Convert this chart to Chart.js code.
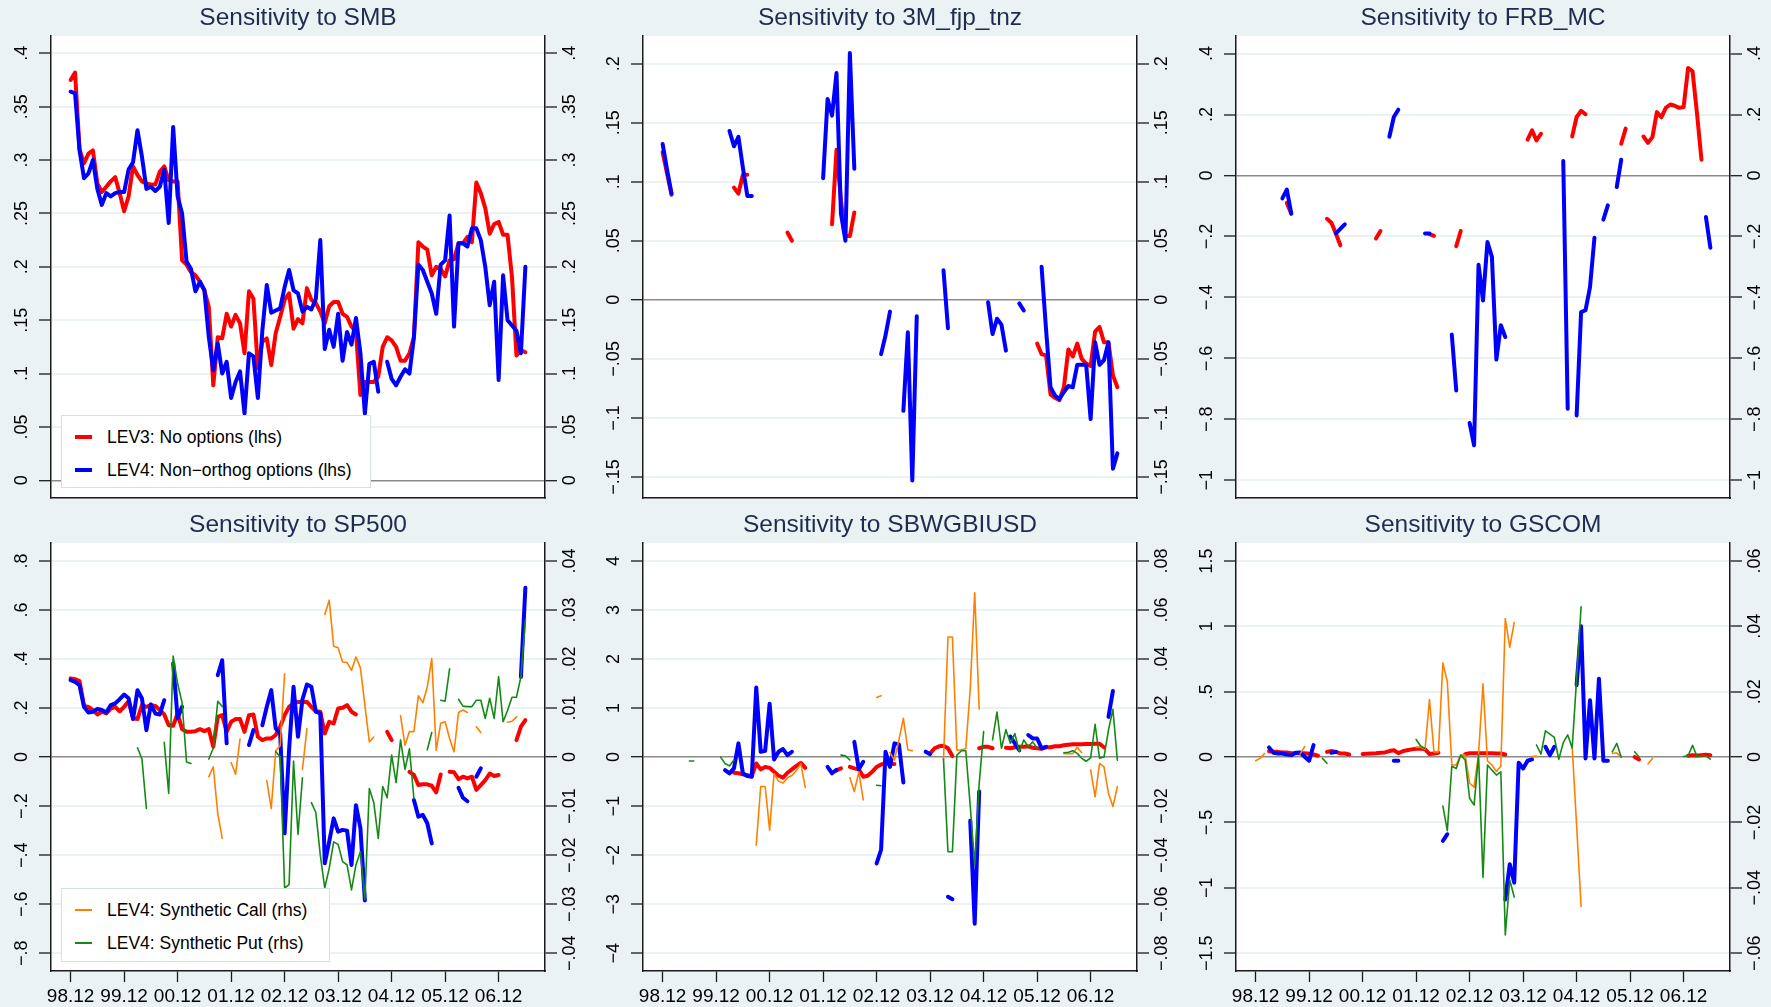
<!DOCTYPE html>
<html><head><meta charset="utf-8">
<script src="https://cdn.jsdelivr.net/npm/chart.js@4.4.0/dist/chart.umd.min.js"></script>
<style>
html,body{margin:0;padding:0;background:#eaf2f3;}
body{width:1771px;height:1007px;position:relative;overflow:hidden;font-family:"Liberation Sans",Arial,sans-serif;}
.pane{position:absolute;}
.pane canvas{display:block;}
.legend{position:absolute;background:#fff;border:1px solid #d6e0e3;box-sizing:border-box;color:#000;font-size:17.5px;z-index:5;}
.legend .row{position:absolute;left:0;right:0;height:20px;}
.legend .sw{position:absolute;left:13px;width:17px;}
.legend .tx{position:absolute;left:45px;top:0;line-height:20px;white-space:nowrap;}
</style></head><body>
<script>
const _ = null;

// ---- categories: month index, 0 = 1998.12 ----
const months = [0,1,2,3,4,5,6,7,8,9,10,11,12,13,14,15,16,17,18,19,20,21,22,23,24,25,26,27,28,29,30,31,32,33,34,35,36,37,38,39,40,41,42,43,44,45,46,47,48,49,50,51,52,53,54,55,56,57,58,59,60,61,62,63,64,65,66,67,68,69,70,71,72,73,74,75,76,77,78,79,80,81,82,83,84,85,86,87,88,89,90,91,92,93,94,95,96,97,98,99,100,101,102];
const xTickValues = [0,12,24,36,48,60,72,84,96];
const xTickLabels = ["98.12","99.12","00.12","01.12","02.12","03.12","04.12","05.12","06.12"];

// ---- Sensitivity to SMB ----
const smbNoOptions = [.375,.382,.31,.297,.306,.309,.278,.27,.275,.28,.284,.269,
 .252,.266,.294,.286,.28,.278,.277,.277,.289,.294,.281,.28,
 .28,.206,.202,.195,.192,.186,.178,.162,.089,.134,.133,.156,
 .144,.155,.147,.119,.177,.17,.105,.13,.133,.108,.138,.153,
 .169,.175,.142,.151,.147,.18,.169,.166,.158,.147,.163,.167,
 .167,.156,.153,.144,.139,.08,.092,.092,.092,.097,.125,.134,
 .131,.125,.112,.112,.119,.134,.223,.219,.216,.192,.2,.198,
 .191,.206,.207,.222,.222,.228,.223,.279,.269,.255,.231,.24,
 .242,.23,.23,.19,.117,.122,.12];
const smbNonOrthog = [.364,.3625,.309,.283,.2875,.3,.273,.258,.269,.266,.269,.27,
 .27,.291,.298,.328,.303,.273,.275,.271,.275,.291,.241,.331,
 .266,.25,.205,.198,.177,.186,.178,.134,.103,.128,.1,.111,
 .077,.092,.102,.0625,.119,.116,.077,.14,.183,.157,.159,.161,
 .181,.197,.178,.175,.158,.1625,.16,.17,.225,.123,.141,.125,
 .156,.112,.139,.127,.152,.119,.0625,.109,.111,.083,_,.111,
 .095,.089,.097,.104,.1,.134,.202,.197,.186,.175,.156,.202,
 .206,.248,.144,.222,.222,.219,.236,.236,.225,.2,.164,.186,
 .094,.192,.15,.145,.14,.119,.2];
const smbTicks = [0,.05,.1,.15,.2,.25,.3,.35,.4];
const smbTickLabels = ["0",".05",".1",".15",".2",".25",".3",".35",".4"];

// ---- Sensitivity to 3M_fjp_tnz ----
const fjpNoOptions = [.125,.107,.089,_,_,_,_,_,_,_,_,_,
 _,_,_,_,.095,.09,.106,.106,_,_,_,_,
 _,_,_,_,.057,.05,_,_,_,_,_,_,
 _,_,.064,.127,.084,.054,.054,.074,_,_,_,_,
 _,_,_,_,_,_,_,_,_,_,_,_,
 _,_,_,_,_,_,_,_,_,_,_,_,
 _,_,_,_,_,_,_,_,_,_,_,_,
 -.037,-.046,-.047,-.08,-.083,-.085,-.074,-.042,-.048,-.037,-.05,-.054,
 -.056,-.027,-.023,-.036,-.036,-.064,-.074];
const fjpNonOrthog = [.132,.11,.09,_,_,_,_,_,_,_,_,_,
 _,_,_,.143,.13,.138,.112,.088,.088,_,_,_,
 _,_,_,_,_,_,_,_,_,_,_,_,
 .103,.17,.156,.192,.073,.05,.209,.111,_,_,_,_,
 _,-.046,-.03,-.01,_,_,-.094,-.0275,-.153,-.014,_,_,
 _,_,_,.025,-.024,_,_,_,_,_,_,_,
 _,-.002,-.029,-.016,-.021,-.043,_,_,-.003,-.009,_,_,
 _,.028,-.025,-.074,-.081,-.084,-.078,-.073,-.074,-.055,-.055,-.055,
 -.101,-.036,-.055,-.051,-.036,-.143,-.13];
const fjpTicks = [-.15,-.1,-.05,0,.05,.1,.15,.2];
const fjpTickLabels = ["\u2212.15","\u2212.1","\u2212.05","0",".05",".1",".15",".2"];

// ---- Sensitivity to FRB_MC ----
const frbNoOptions = [_,_,_,_,_,_,_,-.09,-.125,_,_,_,
 _,_,_,_,-.142,-.155,-.19,-.229,_,_,_,_,
 _,_,_,-.207,-.182,_,_,_,_,_,_,_,
 _,_,_,-.192,-.198,_,_,_,_,-.232,-.182,_,
 _,_,_,_,_,_,_,_,_,_,_,_,
 _,.118,.148,.115,.137,_,_,_,_,_,_,.128,
 .192,.212,.201,_,_,_,_,_,_,_,.104,.154,
 _,_,_,.128,.107,.126,.208,.191,.222,.233,.229,.222,
 .225,.353,.342,.203,.052,_,_];
const frbNonOrthog = [_,_,_,_,_,_,-.075,-.046,-.125,_,_,_,
 _,_,_,_,_,_,-.19,-.175,-.16,_,_,_,
 _,_,_,_,_,_,.127,.192,.216,_,_,_,
 _,_,-.19,-.19,_,_,_,_,-.522,-.705,_,_,
 -.812,-.885,-.293,-.41,-.218,-.267,-.604,-.491,-.53,_,_,_,
 _,_,_,_,_,_,_,_,_,.048,-.765,_,
 -.787,-.448,-.442,-.366,-.204,_,-.145,-.098,_,-.038,.052,_,
 _,_,_,_,_,_,_,_,_,_,_,_,
 _,_,_,_,_,-.136,-.237];
const frbTicks = [-1,-.8,-.6,-.4,-.2,0,.2,.4];
const frbTickLabels = ["\u22121","\u2212.8","\u2212.6","\u2212.4","\u2212.2","0",".2",".4"];

// ---- Sensitivity to SP500 ----
const spNoOptions = [.321,.318,.31,.209,.205,.192,.174,.185,.178,.198,.205,.187,
 .205,.228,.158,.155,.212,.205,.212,.209,.192,.174,.13,.128,
 .178,.114,.103,.103,.106,.114,.106,.114,.042,.164,.171,.103,
 .144,.155,.155,.103,.171,.174,.083,.069,.076,.076,.09,.124,
 .171,.205,.219,.225,.225,.225,.205,.187,.185,.096,.144,.137,
 .198,.201,.212,.185,.174,_,_,_,_,_,_,.103,
 .069,_,_,_,-.06,-.073,-.114,-.111,-.111,-.117,-.144,-.071,
 _,-.06,-.062,-.09,-.08,-.087,-.08,-.134,-.114,-.094,-.067,-.077,
 -.073,_,_,_,.069,.124,.151];
const spNonOrthog = [.314,.307,.293,.205,.182,.185,.196,.192,.182,.212,.219,.236,
 .255,.24,.155,.273,.239,.11,.215,.178,.174,.232,_,.382,
 .158,.205,_,_,_,_,_,_,_,.334,.395,.056,
 _,_,_,_,.049,.11,_,.13,.205,.273,.117,.096,
 -.311,.03,.287,.083,.235,.296,.287,.185,.178,-.433,-.345,-.25,
 -.304,-.297,-.3,-.44,-.196,-.29,-.585,_,_,_,_,_,
 _,_,_,_,_,-.175,-.243,-.236,-.27,-.352,_,_,
 _,_,_,-.125,-.166,-.18,_,-.08,-.046,_,_,_,
 _,_,_,_,_,.327,.691];
const spCall = [_,_,_,_,_,_,_,_,_,_,_,_,
 _,_,_,_,_,_,_,_,_,_,_,_,
 _,_,_,_,_,_,_,-.004,-.002,-.0115,-.0166,_,
 -.0011,-.0035,.0037,_,_,_,_,_,-.0048,-.0105,.0013,.0023,
 .017,_,_,_,-.0025,.0058,_,_,_,.0291,.032,.0226,
 .0223,.0194,.0193,.0177,.0204,.0182,.0106,.0031,.0041,_,_,_,
 _,_,.0084,.0024,.0052,.0052,.0125,.0111,.0143,.0201,.0014,.0069,
 .0072,.0038,.0011,.0091,.0096,.0091,_,.0062,.005,_,_,_,
 _,_,.0071,.0073,.0082,_,_];
const spPut = [_,_,_,_,_,_,_,_,_,_,_,_,
 _,_,_,.0019,-.0004,-.0105,_,_,_,.003,-.0074,.0206,
 .015,.0111,-.001,-.0013,_,_,_,-.0004,.0018,.0114,.0103,_,
 _,_,_,_,_,_,_,_,_,_,.0011,.0001,
 -.0267,-.026,-.0008,-.0158,-.0042,_,-.0093,-.0113,-.02,-.0267,-.0227,-.0173,
 -.0178,-.0213,-.022,-.0271,-.022,-.0193,-.029,-.0064,-.0093,-.0166,-.006,-.0083,
 .0004,-.0052,.0035,-.0025,.0017,-.0085,_,_,.0015,.005,_,.0116,
 .0114,.018,_,.0118,.0104,.0103,.0103,.0116,.0116,.0079,.012,.0079,
 .0164,.0072,.0095,.0122,.0122,.0164,.028];
const spTicks = [-.8,-.6,-.4,-.2,0,.2,.4,.6,.8];
const spTickLabels = ["\u2212.8","\u2212.6","\u2212.4","\u2212.2","0",".2",".4",".6",".8"];
const spRhsTicks = [-.04,-.03,-.02,-.01,0,.01,.02,.03,.04];
const spRhsTickLabels = ["\u2212.04","\u2212.03","\u2212.02","\u2212.01","0",".01",".02",".03",".04"];

// ---- Sensitivity to SBWGBIUSD ----
const sbNoOptions = [_,_,_,_,_,_,_,_,_,_,_,_,
 _,_,_,_,-.32,-.33,-.35,-.37,-.39,-.13,-.25,-.2,
 -.22,-.3,-.38,-.42,-.32,-.25,-.18,-.12,-.22,_,_,_,
 _,_,_,-.27,-.23,_,-.2,-.23,-.25,-.4,-.38,-.3,
 -.2,-.15,-.13,-.14,-.14,_,_,_,_,_,_,_,
 .075,.18,.22,.23,.18,.02,_,_,_,_,_,.18,
 .21,.21,.18,_,_,.19,.18,.2,.21,.21,.22,.19,
 .18,.17,.2,.2,.22,.22,.24,.25,.26,.26,.26,.265,
 .265,.27,.27,.2,_,_,_];
const sbNonOrthog = [_,_,_,_,_,_,_,_,_,_,_,_,
 _,_,-.265,-.333,-.23,.28,-.333,-.387,-.4,1.42,.109,.129,
 1.09,-.048,.11,.163,.04,.109,_,_,_,_,_,_,
 _,-.2,-.33,-.26,_,_,_,.31,-.25,-.095,_,_,
 -2.17,-1.89,.11,-.2,.28,.26,-.52,_,_,_,_,.11,
 .06,_,_,_,-2.85,-2.9,_,_,_,-1.3,-3.4,-.7,
 _,_,_,_,_,_,.42,.28,.14,_,.45,.38,
 .38,.18,.21,_,_,_,_,_,_,_,_,_,
 _,_,_,_,.82,1.35,_];
const sbCall = [_,_,_,_,_,_,_,_,_,_,_,_,
 _,_,_,_,_,_,_,_,_,-.0359,-.012,-.012,
 -.0298,-.0068,-.0098,-.0106,-.0085,-.0075,-.0055,-.0027,-.0124,_,_,_,
 _,_,_,_,_,_,-.0084,-.0141,-.006,-.0175,_,_,
 .0243,.025,_,.0018,-.0012,.007,.0158,.003,.0026,_,_,_,
 _,_,_,-.001,.049,.049,.0028,.003,.0034,.028,.067,.0196,
 _,_,_,_,_,_,_,_,_,_,_,_,
 _,_,_,_,_,_,.0014,.0014,.0014,.004,.0018,_,
 -.0052,-.0162,-.0026,-.004,-.0148,-.0202,-.012];
const sbPut = [_,_,_,_,_,_,-.0016,-.0016,_,_,_,_,
 _,0,-.0026,-.0036,-.0012,_,_,_,_,_,_,_,
 _,_,_,_,_,_,_,_,_,_,_,_,
 _,_,_,_,.0008,.0005,-.0012,_,_,_,_,_,
 -.0115,-.0117,_,_,_,_,_,_,_,_,_,_,
 _,_,_,-.0008,-.0386,-.0386,.0008,.0026,.0026,-.02,-.044,-.011,
 .0104,_,.007,.0184,.0036,.0112,.0056,.0096,.0022,.007,.0042,.0062,
 .0036,_,_,_,_,_,.0018,.002,.0026,.0015,-.0005,-.0017,
 -.0003,.0134,-.0005,0,.011,.0195,-.0013];
const sbTicks = [-4,-3,-2,-1,0,1,2,3,4];
const sbTickLabels = ["\u22124","\u22123","\u22122","\u22121","0","1","2","3","4"];
const sbRhsTicks = [-.08,-.06,-.04,-.02,0,.02,.04,.06,.08];
const sbRhsTickLabels = ["\u2212.08","\u2212.06","\u2212.04","\u2212.02","0",".02",".04",".06",".08"];

// ---- Sensitivity to GSCOM ----
const gsNoOptions = [_,_,_,.045,.04,.04,.035,.035,.03,.03,.03,.03,
 .025,.02,.01,_,.04,.046,.04,.028,.028,.02,_,_,
 .023,.026,.028,.03,.033,.036,.046,.053,.03,.045,.053,.059,
 .064,.066,.06,.023,.028,.033,_,_,_,_,_,.023,
 .03,.03,.03,.03,.03,.03,.028,.028,.02,_,_,_,
 _,_,_,_,_,_,_,_,_,_,_,_,
 _,_,_,_,_,_,_,_,_,_,_,_,
 _,0,-.018,_,_,_,_,_,_,_,_,_,
 _,.01,.015,.012,.015,.018,.015];
const gsNonOrthog = [_,_,_,.074,.033,.028,.028,.02,.015,.033,.036,.003,
 -.028,.092,_,_,_,.033,.04,_,_,_,_,_,
 _,_,_,_,_,_,_,-.028,-.028,_,_,_,
 _,_,_,_,_,_,-.64,-.59,_,_,_,_,
 _,_,_,_,_,_,_,_,-1.09,-.82,-.96,-.043,
 -.087,-.028,-.018,_,_,.079,.015,.079,_,_,_,_,
 .55,1,-.01,.435,-.01,.6,-.028,-.028,_,_,_,_,
 _,_,_,_,_,_,_,_,_,_,_,_,
 _,_,_,_,_,_,_];
const gsCall = [-.0011,-.0004,.0011,_,_,_,_,_,_,_,.001,.0032,
 _,_,_,_,_,_,_,_,_,_,_,_,
 _,_,_,_,_,_,_,_,_,_,_,_,
 .003,.003,.0024,.0176,.0016,.0016,.0288,.023,-.0024,-.0024,.0006,.0006,
 -.008,-.0092,.0009,.0224,-.0012,-.0024,-.0044,-.0028,.0424,.0336,.0412,_,
 _,_,.0002,.0003,_,_,_,_,_,_,_,.0032,
 -.021,-.0457,_,_,_,_,_,_,.0011,.0013,0,_,
 _,_,_,_,-.0021,-.0004,_,_,_,_,_,_,
 _,_,_,_,_,_,_];
const gsPut = [_,_,_,_,_,_,_,_,_,_,_,_,
 _,_,_,-.0004,-.0019,_,_,_,_,_,_,_,
 _,_,_,_,_,_,_,_,_,_,_,_,
 .0054,.0034,.0026,_,_,_,-.015,-.0225,-.0028,-.0035,.0006,-.0009,
 -.0126,-.0147,.0006,-.0368,-.0024,-.004,-.0055,-.0045,-.0544,-.0376,-.0428,_,
 _,_,_,.0037,.0009,.008,.007,.006,-.0007,.0044,.0068,.0028,
 .024,.046,_,_,_,_,_,_,.0016,.0042,0,_,
 _,.0016,0,_,_,_,_,_,_,_,_,_,
 .0002,.0004,.0036,.0002,.0004,.0004,-.0006];
const gsTicks = [-1.5,-1,-.5,0,.5,1,1.5];
const gsTickLabels = ["\u22121.5","\u22121","\u2212.5","0",".5","1","1.5"];
const gsRhsTicks = [-.06,-.04,-.02,0,.02,.04,.06];
const gsRhsTickLabels = ["\u2212.06","\u2212.04","\u2212.02","0",".02",".04",".06"];

// ---- legend names ----
const nameNoOptions = "LEV3: No options (lhs)";
const nameNonOrthog = "LEV4: Non\u2212orthog options (lhs)";
const nameCall = "LEV4: Synthetic Call (rhs)";
const namePut = "LEV4: Synthetic Put (rhs)";

// ---------------- layout & styling ----------------
const FAMILY = '"Liberation Sans", Arial, Helvetica, sans-serif';
const AXIS = '#1a1a1a';
const GRID = '#eaf2f3';
const ZERO = '#8a8a8a';
const TITLE_COLOR = '#1f2c50';
const PLOT_W = 494;
const colLeft = [51, 643, 1236];
const rowTop = [36, 543];
const rowPlotH = [462, 428];
const rowBottomH = [5, 36];
const LW = 51, RW = 41, TH = 36;
const Y_FONT = 18, X_FONT = 19, TITLE_FONT = 24.5;
const Y_TICK_LEN = 12, X_TICK_LEN = 11;
const LEFT_LABEL_DIST = 28.5, RIGHT_LABEL_DIST = 25.5;

const styles = {
  noopt:  {color:'#ff0000', width:4,   axis:'yL', order:4},
  nonorth:{color:'#0000ff', width:4,   axis:'yL', order:3},
  call:   {color:'#ff8000', width:1.6, axis:'yR', order:2},
  put:    {color:'#148a14', width:1.6, axis:'yR', order:1}
};

const panels = [
  {title:'Sensitivity to SMB', row:0, col:0,
   left:{min:-0.0166, max:0.4162, ticks:smbTicks, labels:smbTickLabels},
   right:{min:-0.0166, max:0.4162, ticks:smbTicks, labels:smbTickLabels},
   series:[[smbNoOptions,'noopt',nameNoOptions],[smbNonOrthog,'nonorth',nameNonOrthog]],
   legend:{x:61, y:415, w:310, h:73}},
  {title:'Sensitivity to 3M_fjp_tnz', row:0, col:1,
   left:{min:-0.1678, max:0.2234, ticks:fjpTicks, labels:fjpTickLabels},
   right:{min:-0.1678, max:0.2234, ticks:fjpTicks, labels:fjpTickLabels},
   series:[[fjpNoOptions,'noopt',nameNoOptions],[fjpNonOrthog,'nonorth',nameNonOrthog]]},
  {title:'Sensitivity to FRB_MC', row:0, col:2,
   left:{min:-1.058, max:0.4577, ticks:frbTicks, labels:frbTickLabels},
   right:{min:-1.058, max:0.4577, ticks:frbTicks, labels:frbTickLabels},
   series:[[frbNoOptions,'noopt',nameNoOptions],[frbNonOrthog,'nonorth',nameNonOrthog]]},
  {title:'Sensitivity to SP500', row:1, col:0,
   left:{min:-0.8726, max:0.8733, ticks:spTicks, labels:spTickLabels},
   right:{min:-0.04363, max:0.043665, ticks:spRhsTicks, labels:spRhsTickLabels},
   series:[[spNoOptions,'noopt',nameNoOptions],[spNonOrthog,'nonorth',nameNonOrthog],[spCall,'call',nameCall],[spPut,'put',namePut]],
   legend:{x:61, y:888, w:269, h:74, only:['call','put']}},
  {title:'Sensitivity to SBWGBIUSD', row:1, col:1,
   left:{min:-4.363, max:4.3665, ticks:sbTicks, labels:sbTickLabels},
   right:{min:-0.08726, max:0.08733, ticks:sbRhsTicks, labels:sbRhsTickLabels},
   series:[[sbNoOptions,'noopt',nameNoOptions],[sbNonOrthog,'nonorth',nameNonOrthog],[sbCall,'call',nameCall],[sbPut,'put',namePut]]},
  {title:'Sensitivity to GSCOM', row:1, col:2,
   left:{min:-1.636, max:1.6375, ticks:gsTicks, labels:gsTickLabels},
   right:{min:-0.06545, max:0.0655, ticks:gsRhsTicks, labels:gsRhsTickLabels},
   series:[[gsNoOptions,'noopt',nameNoOptions],[gsNonOrthog,'nonorth',nameNonOrthog],[gsCall,'call',nameCall],[gsPut,'put',namePut]]}
];

const mctx = document.createElement('canvas').getContext('2d');
function widest(labels, size){
  mctx.font = 'normal normal ' + size + 'px ' + FAMILY;
  return Math.max.apply(null, labels.map(l => mctx.measureText(l).width));
}

const whiteArea = {
  id:'whiteArea',
  beforeDraw(chart){
    const a = chart.chartArea, c = chart.ctx;
    c.save(); c.fillStyle = '#ffffff';
    c.fillRect(a.left, a.top, a.right - a.left, a.bottom - a.top);
    c.restore();
  }
};

function yAxis(spec, side){
  const w = widest(spec.labels, Y_FONT);
  const dist = side === 'left' ? LEFT_LABEL_DIST : RIGHT_LABEL_DIST;
  return {
    type:'linear', position:side, min:spec.min, max:spec.max,
    afterBuildTicks(s){ s.ticks = spec.ticks.map(v => ({value:v})); },
    afterFit(s){ s.width = side === 'left' ? LW : RW; s.paddingTop = 0; s.paddingBottom = 0; },
    ticks:{autoSkip:false, minRotation:90, maxRotation:90, crossAlign:'center',
      padding: dist - Y_TICK_LEN - w/2, color:'#000',
      font:{family:FAMILY, size:Y_FONT},
      callback:(v,i) => spec.labels[i]},
    grid:{
      drawOnChartArea: side === 'left',
      color: c => (c.tick && Math.abs(c.tick.value) < 1e-12) ? ZERO : GRID,
      lineWidth: c => (c.tick && Math.abs(c.tick.value) < 1e-12) ? 1.4 : 2,
      drawTicks:true, tickLength:Y_TICK_LEN, tickColor:AXIS, tickWidth:1.3},
    border:{display:true, color:AXIS, width:1.5}
  };
}

panels.forEach(p => {
  const bottomRow = p.row === 1;
  const plotH = rowPlotH[p.row];
  const BH = rowBottomH[p.row];
  const W = LW + PLOT_W + RW, H = TH + plotH + BH;
  const div = document.createElement('div');
  div.className = 'pane';
  div.style.left = (colLeft[p.col] - LW) + 'px';
  div.style.top = (rowTop[p.row] - TH) + 'px';
  const cv = document.createElement('canvas');
  cv.width = W; cv.height = H; cv.style.width = W + 'px'; cv.style.height = H + 'px';
  div.appendChild(cv);
  document.body.appendChild(div);

  const datasets = p.series.map(([data, key, name]) => {
    const st = styles[key];
    return {label:name, data:data, yAxisID:st.axis, order:st.order,
      borderColor:st.color, backgroundColor:st.color, borderWidth:st.width,
      pointRadius:0, pointHoverRadius:0, tension:0, spanGaps:false, fill:false,
      borderJoinStyle:'round', borderCapStyle:'round'};
  });

  new Chart(cv, {
    type:'line',
    data:{labels:months, datasets:datasets},
    plugins:[whiteArea],
    options:{
      responsive:false, animation:false, devicePixelRatio:1,
      layout:{padding:0, autoPadding:false},
      events:[],
      plugins:{
        legend:{display:false}, tooltip:{enabled:false},
        title:{display:true, text:p.title, fullSize:false, color:TITLE_COLOR,
          font:{family:FAMILY, size:TITLE_FONT, weight:'normal', lineHeight:1.2},
          padding:{top:3.3, bottom:3.3}}
      },
      scales:{
        x:{type:'linear', position:'bottom', min:-4.4, max:106.4,
          afterBuildTicks(s){ s.ticks = xTickValues.map(v => ({value:v})); },
          afterFit(s){ s.height = BH; s.paddingLeft = 0; s.paddingRight = 0; },
          ticks:{display:bottomRow, autoSkip:false, minRotation:0, maxRotation:0, padding:3,
            color:'#000', font:{family:FAMILY, size:X_FONT},
            callback:(v,i) => xTickLabels[i]},
          grid:{drawOnChartArea:false, drawTicks:bottomRow, tickLength:X_TICK_LEN, tickColor:AXIS, tickWidth:1.3},
          border:{display:true, color:AXIS, width:1.5}},
        yL: yAxis(p.left, 'left'),
        yR: yAxis(p.right, 'right')
      }
    }
  });

  if (p.legend){
    const lg = document.createElement('div');
    lg.className = 'legend';
    lg.style.left = p.legend.x + 'px'; lg.style.top = p.legend.y + 'px';
    lg.style.width = p.legend.w + 'px'; lg.style.height = p.legend.h + 'px';
    const items = p.series.filter(s => !p.legend.only || p.legend.only.includes(s[1]));
    const rowCenters = [21, 54];
    items.forEach((s, i) => {
      const st = styles[s[1]];
      const r = document.createElement('div');
      r.className = 'row'; r.style.top = (rowCenters[i] - 10) + 'px';
      const sw = document.createElement('div');
      sw.className = 'sw'; sw.style.height = st.width + 'px';
      sw.style.top = (10 - st.width/2) + 'px'; sw.style.background = st.color;
      const tx = document.createElement('div');
      tx.className = 'tx'; tx.textContent = s[2];
      r.appendChild(sw); r.appendChild(tx); lg.appendChild(r);
    });
    document.body.appendChild(lg);
  }
});
</script>
</body></html>
